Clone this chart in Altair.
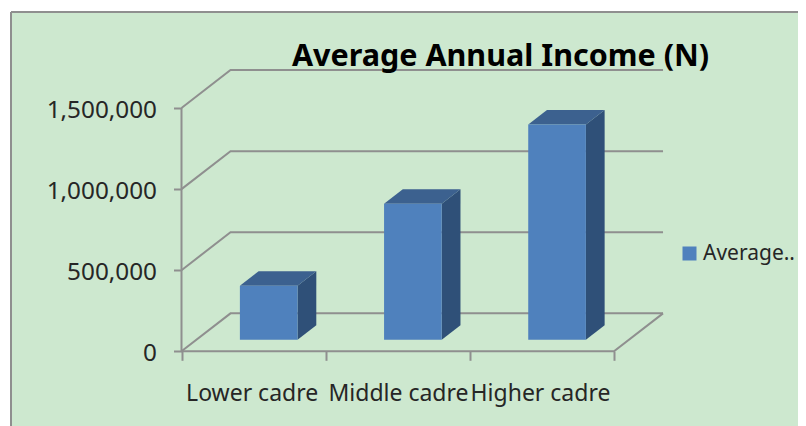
import altair as alt
import pandas as pd

categories = ["Lower cadre", "Middle cadre", "Higher cadre"]
values = [333000, 838000, 1327000]
grid_values = [0, 500000, 1000000, 1500000]
slot_ticks = [0, 1, 2, 3]
series_name = "Average.."
title_text = "Average Annual Income (N)"

# 3D projection offsets in data units
WALL_DX, WALL_DY = 0.34, 234000
GAP_DX, GAP_DY = 0.105, 71500
BAR_DX, BAR_DY = 0.13, 89500
BAR_HALF = 0.2
LABEL_Y = -262000

GREEN = "#cde8cf"
GRAY = "#8f8f8f"
FRONT, TOP, SIDE = "#4f81bd", "#3c618f", "#2f5078"
TEXT = "#262626"
FONT = "Noto Sans"

W, H = 787, 414
xs = alt.Scale(domain=[-170.5 / 144.17, (W - 170.5) / 144.17], range=[0, W], nice=False, zero=False)
ys = alt.Scale(domain=[(339.3 - H) / 1.622e-4, 339.3 / 1.622e-4], range=[H, 0], nice=False, zero=False)
X = lambda f="x", **k: alt.X(f"{f}:Q", scale=xs, **k)
Y = lambda f="y", **k: alt.Y(f"{f}:Q", scale=ys, **k)

# walls
rows = []
for g in grid_values:
    rows += [dict(k=g, o=0, x=0, y=g),
             dict(k=g, o=1, x=WALL_DX, y=g + WALL_DY),
             dict(k=g, o=2, x=3 + WALL_DX, y=g + WALL_DY)]
rows += [dict(k=-1, o=0, x=3 + WALL_DX, y=WALL_DY), dict(k=-1, o=1, x=3, y=0), dict(k=-1, o=2, x=0, y=0)]
rows += [dict(k=-2, o=0, x=0, y=0), dict(k=-2, o=1, x=0, y=max(grid_values))]
grid = alt.Chart(pd.DataFrame(rows)).mark_line(color=GRAY, strokeWidth=2).encode(
    x=X(axis=alt.Axis(values=slot_ticks, labels=False, title=None, domain=False, grid=False,
                      orient="bottom", offset=-(H - 339.3), tickSize=9, tickWidth=2, tickColor=GRAY)),
    y=Y(axis=alt.Axis(values=grid_values, format=",.0f", title=None, domain=False, grid=False,
                      orient="left", offset=-170.5, tickSize=8, tickWidth=2, tickColor=GRAY,
                      labelFont=FONT, labelFontSize=24.3, labelColor=TEXT, labelPadding=17, labelOffset=2)),
    detail="k:N", order="o:Q")

# bars
fr, tp, sd = [], [], []
for i, (c, v) in enumerate(zip(categories, values)):
    x0 = i + 0.5 + GAP_DX - BAR_HALF
    x1 = i + 0.5 + GAP_DX + BAR_HALF
    y0 = GAP_DY
    y1 = GAP_DY + v
    fr.append(dict(c=c, series=series_name, x=x0, x2=x1, y=y0, y2=y1))
    tp += [dict(c=c, y=y1, x=x0, x2=x1),
           dict(c=c, y=y1 + BAR_DY, x=x0 + BAR_DX, x2=x1 + BAR_DX)]
    sd += [dict(c=c, x=x1, y=y0, y2=y1),
           dict(c=c, x=x1 + BAR_DX, y=y0 + BAR_DY, y2=y1 + BAR_DY)]

side = alt.Chart(pd.DataFrame(sd)).mark_area(color=SIDE).encode(
    x=X(), y=Y(), y2="y2:Q", detail="c:N")
top = alt.Chart(pd.DataFrame(tp)).mark_area(color=TOP, orient="horizontal").encode(
    y=Y(), x=X(), x2="x2:Q", detail="c:N")
front = alt.Chart(pd.DataFrame(fr)).mark_rect().encode(
    x=X(), x2="x2:Q", y=Y(), y2="y2:Q",
    color=alt.Color("series:N", scale=alt.Scale(domain=[series_name], range=[FRONT]),
                    legend=alt.Legend(orient="none", legendX=668, legendY=231, title=None,
                                      symbolType="square", symbolSize=196, symbolStrokeWidth=0,
                                      labelFont=FONT, labelFontSize=21, labelColor=TEXT,
                                      labelLimit=300, labelOffset=3)))

labels = alt.Chart(pd.DataFrame({"c": categories, "x": [0.49, 1.505, 2.49], "y": [LABEL_Y] * 3})).mark_text(
    font=FONT, fontSize=23, color=TEXT).encode(x=X(), y=Y(), text="c:N")

border_l = alt.Chart(pd.DataFrame({"a": [0]})).mark_rule(color=GRAY, strokeWidth=2).encode(
    x=alt.value(0), y=alt.value(0), y2=alt.value(H))
border_t = alt.Chart(pd.DataFrame({"a": [0]})).mark_rule(color=GRAY, strokeWidth=2).encode(
    y=alt.value(0), x=alt.value(0), x2=alt.value(W))

chart = alt.layer(grid, side, top, front, labels, border_l, border_t).properties(
    width=W, height=H,
    padding={"left": 3, "top": 4, "right": 0, "bottom": 0},
    autosize=alt.AutoSizeParams(type="none"),
    title=alt.TitleParams(title_text, anchor="start", frame="group", dx=281, offset=-61.5,
                          font=FONT, fontSize=30.5, fontWeight="bold", color="#000000"),
).configure_view(fill=GREEN, stroke=None)

chart.save("out.html", embed_options={"renderer": "svg", "actions": False})
